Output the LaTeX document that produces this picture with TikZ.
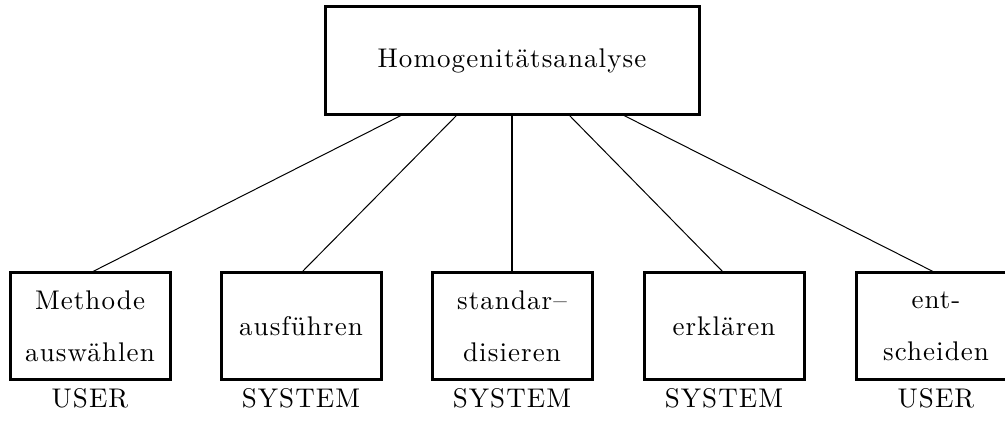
\documentclass[tikz,border=0pt]{standalone}
\usepackage{fontspec}
\setmainfont{lmroman10-regular.otf}[LetterSpace=4]
\begin{document}
\begin{tikzpicture}[x=1pt,y=-1pt,
  txt/.style={font=\fontsize{27}{52}\selectfont},
  rootbox/.style={draw, line width=3pt, outer sep=0pt, minimum width=374pt, minimum height=108pt, inner sep=0pt, txt},
  taskbox/.style={draw, line width=3pt, outer sep=0pt, minimum width=160pt, minimum height=106pt, inner sep=0pt, align=center, txt},
  role/.style={anchor=base, inner sep=0pt, txt},
  branch/.style={line width=1pt},
  stem/.style={line width=2pt}]
\useasboundingbox (0,0) rectangle (1005,422);

% root task
\node[rootbox] (root) at (512,61) {Homogenitätsanalyse};

% sub-tasks
\node[taskbox] (m) at (90,326)   {Methode\\auswählen};
\node[taskbox] (a) at (301,326)  {ausführen};
\node[taskbox] (s) at (512,326)  {standar–\\disieren};
\node[taskbox] (e) at (724,326)  {erklären};
\node[taskbox] (d) at (936,326)  {ent-\\scheiden};

% who performs each step
\node[role] (rm) at (90,407)  {USER};
\node[role] (ra) at (301,407) {SYSTEM};
\node[role] (rs) at (512,407) {SYSTEM};
\node[role] (re) at (724,407) {SYSTEM};
\node[role] (rd) at (936,407) {USER};

% attachment points along the bottom edge of the root box
\coordinate (p1) at ([xshift=-110pt]root.south);
\coordinate (p2) at ([xshift=-55pt]root.south);
\coordinate (p4) at ([xshift=57pt]root.south);
\coordinate (p5) at ([xshift=111pt]root.south);

\draw[branch] (p1) -- (m.north);
\draw[branch] (p2) -- (a.north);
\draw[stem]   (root.south) -- (s.north);
\draw[branch] (p4) -- (e.north);
\draw[branch] (p5) -- (d.north);
\end{tikzpicture}
\end{document}
